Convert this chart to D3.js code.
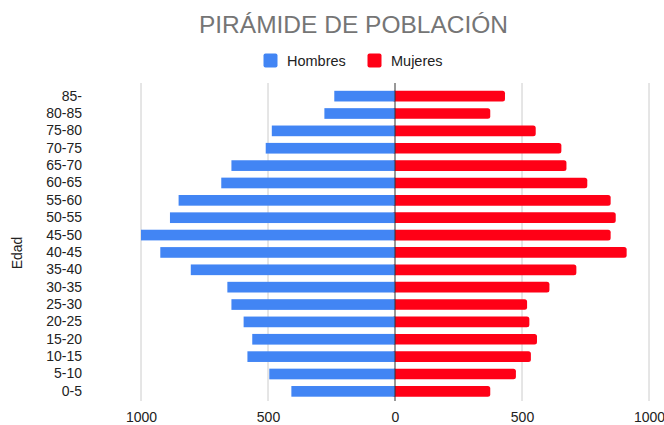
<!DOCTYPE html>
<html>
<head>
<meta charset="utf-8">
<script src="https://cdn.jsdelivr.net/npm/d3@7"></script>
<style>
  body { margin: 0; background: #fff; }
  text { font-family: "Liberation Sans", Arial, sans-serif; }
</style>
</head>
<body>
<script>
// age groups, top of the pyramid first
var edades = ["85-", "80-85", "75-80", "70-75", "65-70", "60-65", "55-60", "50-55", "45-50",
              "40-45", "35-40", "30-35", "25-30", "20-25", "15-20", "10-15", "5-10", "0-5"];
var hombres = [239, 278, 485, 509, 644, 684, 852, 886, 1000, 924, 804, 660, 644, 596, 562, 581, 495, 408];
var mujeres = [433, 375, 554, 655, 675, 757, 849, 869, 849, 912, 714, 608, 520, 529, 559, 535, 476, 375];
var ticks = [-1000, -500, 0, 500, 1000];

var width = 664, height = 425;
var azul = "#4285f4", rojo = "#ff0016";

var svg = d3.select("body").append("svg")
  .attr("width", width)
  .attr("height", height);

var x = d3.scaleLinear().domain([-1000, 1000]).range([141, 649]);
var y = d3.scaleBand().domain(edades).range([87.5, 400]).paddingInner(0.385).paddingOuter(0.19);

// grid lines
svg.append("g").selectAll("line")
  .data(ticks.filter(function(t){ return t != 0; }))
  .enter().append("line")
  .attr("x1", function(d){ return x(d); })
  .attr("x2", function(d){ return x(d); })
  .attr("y1", 83)
  .attr("y2", 401)
  .attr("stroke", "#cccccc")
  .attr("stroke-width", 1);

// mujeres (right side)
svg.append("g").selectAll("rect")
  .data(mujeres)
  .enter().append("rect")
  .attr("x", x(0) - 3)
  .attr("y", function(d, i){ return y(edades[i]); })
  .attr("width", function(d){ return x(d) - x(0) + 3; })
  .attr("height", y.bandwidth())
  .attr("rx", 2.5)
  .attr("fill", rojo);

// hombres (left side)
svg.append("g").selectAll("rect")
  .data(hombres)
  .enter().append("rect")
  .attr("x", function(d){ return x(-d); })
  .attr("y", function(d, i){ return y(edades[i]); })
  .attr("width", function(d){ return x(0) - x(-d); })
  .attr("height", y.bandwidth())
  .attr("fill", azul);

// zero line
svg.append("line")
  .attr("x1", x(0)).attr("x2", x(0))
  .attr("y1", 83).attr("y2", 401)
  .attr("stroke", "#333333")
  .attr("stroke-width", 1);

// x axis labels
var xAxis = svg.append("g")
  .attr("transform", "translate(0,401)")
  .call(d3.axisBottom(x).tickValues(ticks).tickSize(0).tickPadding(11)
    .tickFormat(function(d){ return Math.abs(d); }));
xAxis.select(".domain").remove();
xAxis.selectAll("text").attr("font-size", "14px").attr("fill", "#222").attr("font-family", "Liberation Sans, Arial, sans-serif");

// y axis labels
var yAxis = svg.append("g")
  .attr("transform", "translate(87,0)")
  .call(d3.axisLeft(y).tickSize(0).tickPadding(5));
yAxis.select(".domain").remove();
yAxis.selectAll("text").attr("font-size", "14px").attr("fill", "#222").attr("font-family", "Liberation Sans, Arial, sans-serif");

// y axis title
svg.append("text")
  .attr("transform", "translate(22,253) rotate(-90)")
  .attr("text-anchor", "middle")
  .attr("font-size", "14px")
  .attr("fill", "#222")
  .text("Edad");

// title
svg.append("text")
  .attr("x", 353.5)
  .attr("y", 33)
  .attr("text-anchor", "middle")
  .attr("font-size", "24.5px")
  .attr("fill", "#757575")
  .text("PIRÁMIDE DE POBLACIÓN");

// legend
var leyenda = [{nombre: "Hombres", color: azul, x: 263.5}, {nombre: "Mujeres", color: rojo, x: 367.5}];
var lg = svg.append("g").selectAll("g")
  .data(leyenda)
  .enter().append("g")
  .attr("transform", function(d){ return "translate(" + d.x + ",53.5)"; });
lg.append("rect")
  .attr("width", 14).attr("height", 14)
  .attr("rx", 2)
  .attr("fill", function(d){ return d.color; });
lg.append("text")
  .attr("x", 23.5)
  .attr("y", 12)
  .attr("font-size", "14.5px")
  .attr("fill", "#222")
  .text(function(d){ return d.nombre; });
</script>
</body>
</html>
